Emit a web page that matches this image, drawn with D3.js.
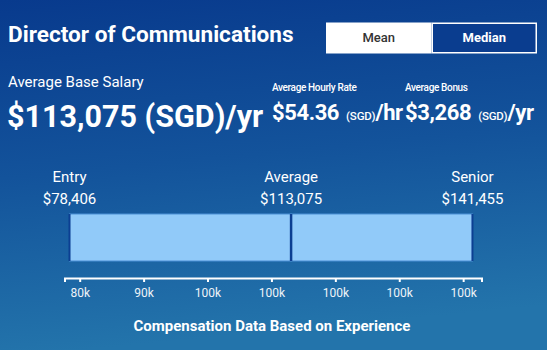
<!DOCTYPE html>
<html>
<head>
<meta charset="utf-8">
<script src="https://cdn.jsdelivr.net/npm/d3@7"></script>
<style>
  html, body { margin: 0; padding: 0; background: #0b3d8f; }
  svg { display: block; font-family: Roboto, "Noto Sans", sans-serif; }
</style>
</head>
<body>
<svg id="chart" width="547" height="350"></svg>
<script>
// Salary figures for the role
const jobTitle = "Director of Communications";
const currency = "SGD";
const levels = ["Entry", "Average", "Senior"];
const salaries = [78406, 113075, 141455];
const hourlyRate = 54.36;
const averageBonus = 3268;
const modes = ["Mean", "Median"];
// Axis ticks and their printed labels
const tickValues = [80000, 90000, 100000, 110000, 120000, 130000, 140000];
const tickLabels = ["80k", "90k", "100k", "100k", "100k", "100k", "100k"];

const W = 547, H = 350;
const svg = d3.select("#chart");

// Background gradient
const defs = svg.append("defs");
const grad = defs.append("linearGradient")
  .attr("id", "bg").attr("x1", 0).attr("y1", 0).attr("x2", 0.15).attr("y2", 1);
grad.append("stop").attr("offset", "0%").attr("stop-color", "#083a8d");
grad.append("stop").attr("offset", "50%").attr("stop-color", "#13539b");
grad.append("stop").attr("offset", "100%").attr("stop-color", "#2374ab");
svg.append("rect").attr("width", W).attr("height", H).attr("fill", "url(#bg)");

const fmtMoney = d3.format("$,.0f");

// Title
svg.append("text")
  .attr("x", 8).attr("y", 42)
  .attr("fill", "#fff").attr("font-size", 22.6).attr("font-weight", 700)
  .text(jobTitle);

// Mean / Median toggle
const toggle = svg.append("g");
const tx = d3.scaleBand().domain(modes).range([326, 537]);
toggle.selectAll("rect").data(modes).join("rect")
  .attr("x", d => tx(d) + 0.75).attr("y", 23.25)
  .attr("width", tx.bandwidth() - 1.5).attr("height", 29.5)
  .attr("fill", (d, i) => i === 0 ? "#ffffff" : "#0a3d8f")
  .attr("stroke", "#ffffff").attr("stroke-width", 1.5);
toggle.selectAll("text").data(modes).join("text")
  .attr("x", d => tx(d) + tx.bandwidth() / 2).attr("y", 42)
  .attr("text-anchor", "middle").attr("font-size", 13)
  .attr("font-weight", (d, i) => i === 0 ? 500 : 700)
  .attr("fill", (d, i) => i === 0 ? "#333333" : "#ffffff")
  .text(d => d);

// Average base salary
svg.append("text")
  .attr("x", 8).attr("y", 87)
  .attr("fill", "#fff").attr("font-size", 15)
  .text("Average Base Salary");
svg.append("text")
  .attr("x", 7).attr("y", 127)
  .attr("fill", "#fff").attr("font-size", 30.5).attr("font-weight", 700)
  .text(`${fmtMoney(salaries[1])} (${currency})/yr`);

// Hourly rate and bonus
function smallStat(x, label, value, unit) {
  svg.append("text")
    .attr("x", x).attr("y", 91)
    .attr("fill", "#fff").attr("font-size", 10).attr("font-weight", 500)
    .attr("letter-spacing", -0.35)
    .text(label);
  const t = svg.append("text")
    .attr("x", x).attr("y", 120)
    .attr("fill", "#fff").attr("font-weight", 700)
    .attr("letter-spacing", -0.4);
  t.append("tspan").attr("font-size", 22).text(value);
  t.append("tspan").attr("dx", 7).attr("font-size", 11.5).attr("font-weight", 500)
    .attr("letter-spacing", -0.2).text(`(${currency})`);
  t.append("tspan").attr("font-size", 22).text(unit);
}
smallStat(272, "Average Hourly Rate", "$" + d3.format(".2f")(hourlyRate), "/hr");
smallStat(405, "Average Bonus", fmtMoney(averageBonus), "/yr");

// Salary range scale
const x = d3.scaleLinear()
  .domain([salaries[0] * 0.99, salaries[2] * 1.01])
  .range([64.5, 481.5]);

const barTop = 214, barBottom = 261;

// Level labels
const lab = svg.append("g").attr("fill", "#fff").attr("text-anchor", "middle").attr("font-size", 15);
lab.selectAll("text.level").data(levels).join("text")
  .attr("class", "level")
  .attr("x", (d, i) => x(salaries[i])).attr("y", 182)
  .text(d => d);
lab.selectAll("text.amount").data(salaries).join("text")
  .attr("class", "amount")
  .attr("x", d => x(d)).attr("y", 204)
  .text(d => fmtMoney(d));

// Range bar: two segments split at the average
const segs = d3.pairs(salaries);
svg.selectAll("rect.seg").data(segs).join("rect")
  .attr("class", "seg")
  .attr("x", d => x(d[0])).attr("y", barTop)
  .attr("width", d => x(d[1]) - x(d[0])).attr("height", barBottom - barTop)
  .attr("fill", "#91caf9")
  .attr("stroke", "#4a8fd6").attr("stroke-width", 1);
svg.selectAll("line.mark").data(salaries).join("line")
  .attr("class", "mark")
  .attr("x1", d => x(d)).attr("x2", d => x(d))
  .attr("y1", barTop).attr("y2", barBottom)
  .attr("stroke", "#0c3f92")
  .attr("stroke-width", (d, i) => i === 1 ? 2.5 : 2);

// Axis
const axis = d3.axisBottom(x)
  .tickValues(tickValues)
  .tickFormat((d, i) => tickLabels[i])
  .tickSize(4).tickSizeOuter(4).tickPadding(6);
const ag = svg.append("g").attr("transform", "translate(0,278)").call(axis);
ag.select(".domain").attr("stroke", "#ffffff").attr("stroke-width", 2);
ag.selectAll(".tick line").attr("stroke", "#ffffff").attr("stroke-width", 2);
ag.selectAll(".tick text").attr("fill", "#eef3f8").attr("font-size", 12)
  .attr("font-family", "Roboto, sans-serif");

// Footer caption
svg.append("text")
  .attr("x", 272).attr("y", 331)
  .attr("text-anchor", "middle")
  .attr("fill", "#fff").attr("font-size", 15).attr("font-weight", 700)
  .text("Compensation Data Based on Experience");
</script>
</body>
</html>
